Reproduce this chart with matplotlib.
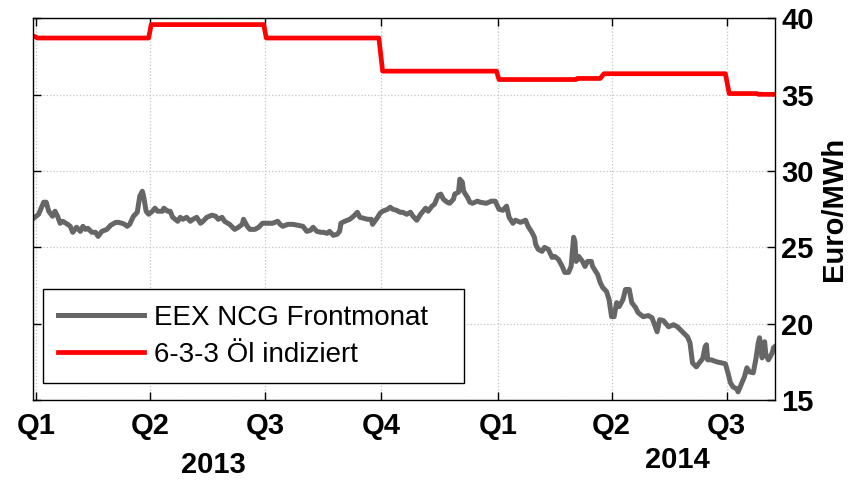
import matplotlib
matplotlib.use("Agg")
import matplotlib.pyplot as plt
import pandas as pd

plt.rcParams['font.family'] = ['Liberation Sans', 'DejaVu Sans']

# gas front month (EEX NCG), days counted from 2013-01-01
gas_day = [-3, 2, 6, 8, 10, 13, 15, 17, 19, 21,
           25, 27, 29, 32, 35, 37, 39, 41, 44, 47,
           49, 52, 56, 59, 63, 65, 68, 70, 72, 74,
           77, 80, 82, 84, 85, 87, 89, 92, 94, 96,
           100, 101, 104, 106, 108, 112, 114, 116, 119, 122,
           124, 127, 130, 132, 135, 139, 142, 144, 147, 149,
           153, 157, 160, 163, 164, 167, 169, 173, 176, 179,
           183, 187, 191, 193, 195, 199, 203, 207, 211, 214,
           217, 219, 222, 225, 227, 230, 232, 235, 238, 240,
           241, 244, 248, 251, 254, 256, 259, 262, 265, 266,
           270, 272, 274, 278, 280, 282, 285, 288, 290, 293,
           296, 298, 301, 304, 306, 308, 310, 313, 315, 318,
           320, 322, 325, 327, 330, 331, 334, 335, 337, 338,
           341, 343, 345, 349, 351, 356, 360, 363, 366, 369,
           372, 374, 377, 379, 383, 387, 389, 392, 394, 395,
           397, 400, 402, 405, 408, 410, 413, 416, 418, 421,
           423, 425, 426, 427, 429, 432, 434, 436, 439, 440,
           444, 446, 448, 451, 453, 455, 457, 459, 461, 464,
           466, 469, 471, 474, 476, 480, 484, 487, 489, 491,
           493, 496, 500, 504, 507, 511, 515, 517, 519, 522,
           525, 527, 529, 530, 531, 534, 538, 542, 545, 547,
           549, 551, 554, 555, 558, 560, 562, 564, 567, 569,
           571, 572, 574, 576, 577, 579, 582, 583, 584]
gas_price = [26.84, 27.17, 27.96, 27.96, 27.37, 27.04, 27.37, 27.04, 26.58, 26.71,
             26.51, 26.38, 25.99, 26.32, 26.05, 26.38, 26.18, 26.25, 25.99, 25.99,
             25.72, 26.05, 26.18, 26.45, 26.64, 26.64, 26.58, 26.51, 26.38, 26.51,
             27.04, 27.30, 28.36, 28.68, 28.36, 27.37, 27.17, 27.37, 27.57, 27.37,
             27.37, 27.57, 27.37, 27.37, 26.97, 26.71, 26.97, 26.84, 26.97, 26.71,
             26.84, 26.97, 26.58, 26.71, 26.97, 27.11, 27.04, 26.84, 26.97, 26.71,
             26.51, 26.18, 26.32, 26.51, 26.84, 26.38, 26.18, 26.18, 26.32, 26.58,
             26.58, 26.58, 26.71, 26.51, 26.38, 26.51, 26.51, 26.45, 26.38, 26.05,
             26.12, 26.32, 26.05, 25.99, 25.99, 25.92, 26.05, 25.79, 25.86, 26.05,
             26.58, 26.71, 26.84, 27.04, 27.30, 26.97, 26.91, 26.84, 26.84, 26.51,
             26.97, 27.24, 27.37, 27.50, 27.63, 27.50, 27.43, 27.30, 27.30, 27.17,
             27.30, 27.04, 26.78, 27.17, 27.37, 27.57, 27.37, 27.70, 27.83, 28.42,
             28.49, 28.16, 27.96, 27.89, 28.16, 28.49, 28.62, 29.47, 29.28, 28.68,
             28.29, 27.96, 27.89, 28.03, 27.96, 27.89, 28.03, 28.03, 27.50, 27.43,
             27.70, 26.97, 26.58, 26.78, 26.64, 26.78, 26.38, 25.99, 25.66, 25.20,
             24.87, 24.74, 25.00, 24.87, 24.34, 24.41, 24.21, 23.75, 23.36, 23.36,
             23.75, 25.66, 25.39, 24.08, 24.41, 24.08, 23.75, 24.08, 24.08, 23.75,
             23.22, 22.70, 22.37, 22.11, 21.58, 20.46, 20.46, 21.38, 21.12, 21.58,
             22.24, 22.24, 21.38, 21.05, 20.72, 20.46, 20.53, 20.39, 19.93, 19.47,
             20.26, 20.20, 19.80, 19.93, 19.80, 19.47, 19.14, 18.75, 17.43, 17.17,
             17.50, 17.70, 18.49, 18.62, 17.63, 17.63, 17.50, 17.43, 17.37, 16.78,
             16.12, 15.86, 15.72, 15.53, 16.12, 16.51, 17.11, 16.84, 16.78, 17.63,
             18.75, 19.08, 17.76, 18.82, 17.96, 17.63, 18.09, 18.42, 18.49]

# oil indexed price 6-3-3
oil_day = [-3, -1, 1, 89, 91, 180, 182, 271, 274, 364,
           366, 427, 428, 446, 449, 545, 548, 570, 571, 585]
oil_price = [38.82, 38.82, 38.72, 38.72, 39.60, 39.60, 38.72, 38.72, 36.55, 36.55,
             36.00, 36.00, 36.07, 36.07, 36.38, 36.38, 35.08, 35.08, 35.03, 35.03]

quarter_dates = ['2013-01-01', '2013-04-01', '2013-07-01', '2013-10-01',
                 '2014-01-01', '2014-04-01', '2014-07-01']
quarter_labels = ['Q1', 'Q2', 'Q3', 'Q4', 'Q1', 'Q2', 'Q3']
y_ticks = [15, 20, 25, 30, 35, 40]

base = pd.Timestamp('2013-01-01')
gas_dates = base + pd.to_timedelta(gas_day, unit='D')
oil_dates = base + pd.to_timedelta(oil_day, unit='D')

fig = plt.figure(figsize=(8.63, 4.8), dpi=100)
ax = fig.add_axes([0.0377, 0.1667, 0.8609, 0.7948])

ax.plot(gas_dates, gas_price, color='#666666', lw=3.6, label='EEX NCG Frontmonat')
ax.plot(oil_dates, oil_price, color='#ff0000', lw=3.4, label='6-3-3 Öl indiziert')

ax.set_xlim(base - pd.Timedelta(days=2.8), base + pd.Timedelta(days=584.6))
ax.set_ylim(15, 40)
ax.set_xticks(pd.to_datetime(quarter_dates))
ax.set_xticklabels(quarter_labels)
ax.set_yticks(y_ticks)

ax.grid(True, linestyle=':', color='#c4c4c4', linewidth=0.9)
ax.set_axisbelow(True)
ax.tick_params(axis='both', direction='in', length=6, width=1, top=True,
               right=True, left=True, labelleft=False, labelright=True,
               labelsize=21)
ax.tick_params(axis='x', pad=9)
ax.tick_params(axis='y', pad=4)
for lab in ax.get_xticklabels() + ax.get_yticklabels():
    lab.set_fontweight('bold')
for sp in ax.spines.values():
    sp.set_linewidth(1)

ax.yaxis.set_label_position('right')
ax.set_ylabel('Euro/MWh', fontsize=21, fontweight='bold', labelpad=5)

fig.text(213 / 863, 1 - 465 / 480, '2013', ha='center', va='center',
         fontsize=21, fontweight='bold')
fig.text(677 / 863, 1 - 460 / 480, '2014', ha='center', va='center',
         fontsize=21, fontweight='bold')

leg = ax.legend(loc='lower left', bbox_to_anchor=(0.0141, 0.0446, 0.5666, 0.2464),
                mode='expand', borderaxespad=0, fontsize=20, handlelength=3.1,
                handletextpad=0.35, borderpad=0.55, labelspacing=0.4,
                fancybox=False, framealpha=1)
leg.get_frame().set_edgecolor('black')
leg.get_frame().set_linewidth(1)

fig.savefig('out.png', dpi=100)
